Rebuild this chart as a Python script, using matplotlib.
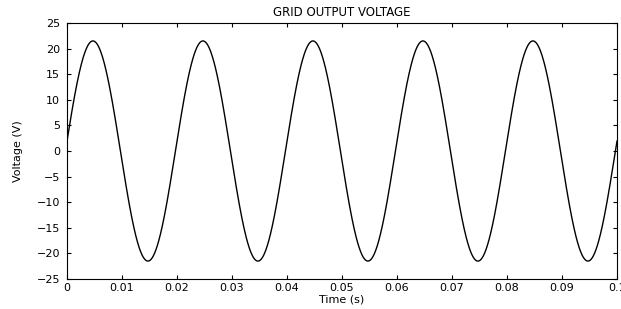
import numpy as np
import matplotlib
matplotlib.use("Agg")
import matplotlib.pyplot as plt

plt.rcParams['font.family'] = ['DejaVu Sans']

# waveform: 50 Hz, ~21.5 V peak, small phase offset
amplitude = 21.5
frequency = 50.0
phase = 0.09
t_end = 0.1

x_ticks = [0, 0.01, 0.02, 0.03, 0.04, 0.05, 0.06, 0.07, 0.08, 0.09, 0.1]
x_tick_labels = ['0', '0.01', '0.02', '0.03', '0.04', '0.05', '0.06', '0.07', '0.08', '0.09', '0.1']
y_ticks = [-25, -20, -15, -10, -5, 0, 5, 10, 15, 20, 25]

t = np.linspace(0, t_end, 2001)
v = amplitude * np.sin(2 * np.pi * frequency * t + phase)

fig = plt.figure(figsize=(6.21, 3.09), dpi=100)
ax = fig.add_axes([67 / 621, 30 / 309, 550 / 621, 256 / 309])

ax.plot(t, v, color='black', linewidth=1.0)

ax.set_xlim(0, 0.1)
ax.set_ylim(-25, 25)
ax.set_xticks(x_ticks)
ax.set_xticklabels(x_tick_labels)
ax.set_yticks(y_ticks)
ax.tick_params(direction='in', length=3, labelsize=8, pad=3,
               top=True, right=True, width=0.8)
ax.tick_params(axis='y', pad=5)
for s in ax.spines.values():
    s.set_linewidth(0.8)

ax.set_title('GRID OUTPUT VOLTAGE', fontsize=8.5, pad=5)
ax.set_xlabel('Time (s)', fontsize=8, labelpad=1)
ax.set_ylabel('Voltage (V)', fontsize=8, labelpad=10)

fig.savefig('out.png', dpi=100)
